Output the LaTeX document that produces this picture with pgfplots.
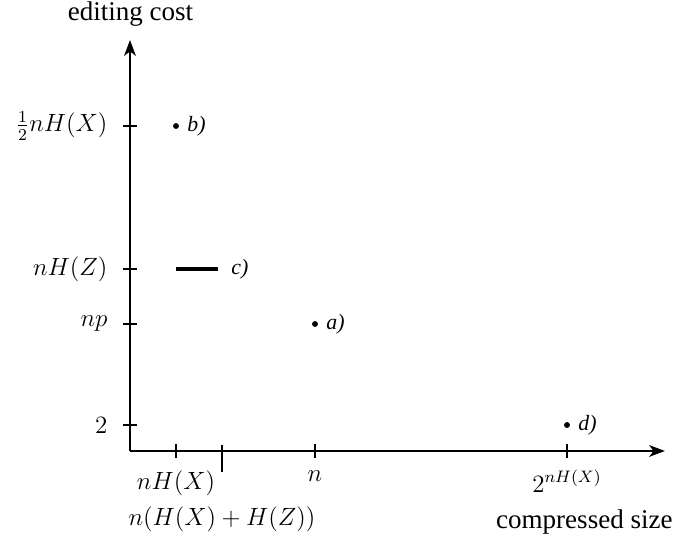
\documentclass[border=0pt]{standalone}
\usepackage{pgfplots}
\pgfplotsset{compat=1.18}
\usepackage{fontspec}
\setmainfont{Liberation Serif}
\usetikzlibrary{arrows.meta}
\begin{document}
\begin{tikzpicture}
\begin{axis}[
    x=0.4808pt, y=0.4808pt,
    xmin=0, xmax=535, ymin=0, ymax=411,
    axis lines=left,
    axis line style={line width=1.4pt, -{Stealth[length=7.5pt,width=5.5pt,inset=2pt]}},
    every tick/.style={line width=1.4pt, black},
    tick align=center,
    major tick length=6.7pt,
    xtick={46,185,437},
    xticklabels={$nH(X)$,$n$,$2^{nH(X)}$},
    extra x ticks={92},
    extra x tick labels={$n(H(X)+H(Z))$},
    extra x tick style={major tick length=0pt, tick label style={yshift=-21pt}},
    ytick={26,127,182,325},
    yticklabels={$2$,$np$,$nH(Z)$,$\frac{1}{2}nH(X)$},
    ticklabel style={font=\large},
    xticklabel style={yshift=-2.5pt},
    yticklabel style={xshift=-4pt},
    clip=false,
]
    % points a), b), d)
    \addplot[only marks, mark=*, mark size=1.2pt] coordinates {
        (185,127)
        (46,325)
        (437,26)
    };
    % segment c)
    \addplot[line width=2pt, no marks] coordinates {(46,182) (88,182)};

    % long tick for n(H(X)+H(Z))
    \draw[line width=1.4pt] (axis cs:92,6) -- (axis cs:92,-21);

    \node[anchor=west, font=\fontsize{10.5}{12}\selectfont] at (axis cs:189,127) {\textit{a)}};
    \node[anchor=west, font=\fontsize{10.5}{12}\selectfont] at (axis cs:50,325) {\textit{b)}};
    \node[anchor=west, font=\fontsize{10.5}{12}\selectfont] at (axis cs:94,182) {\textit{c)}};
    \node[anchor=west, font=\fontsize{10.5}{12}\selectfont] at (axis cs:441,26) {\textit{d)}};

    \node[inner sep=0pt, font=\fontsize{13}{15}\selectfont] at (axis cs:0.5,437) {editing cost};
    \node[inner sep=0pt, anchor=east, font=\fontsize{13}{15}\selectfont] at (axis cs:543,-71) {compressed size};

    % page extent
    \path (axis cs:-130,451) rectangle (axis cs:545,-90);
\end{axis}
\end{tikzpicture}
\end{document}
